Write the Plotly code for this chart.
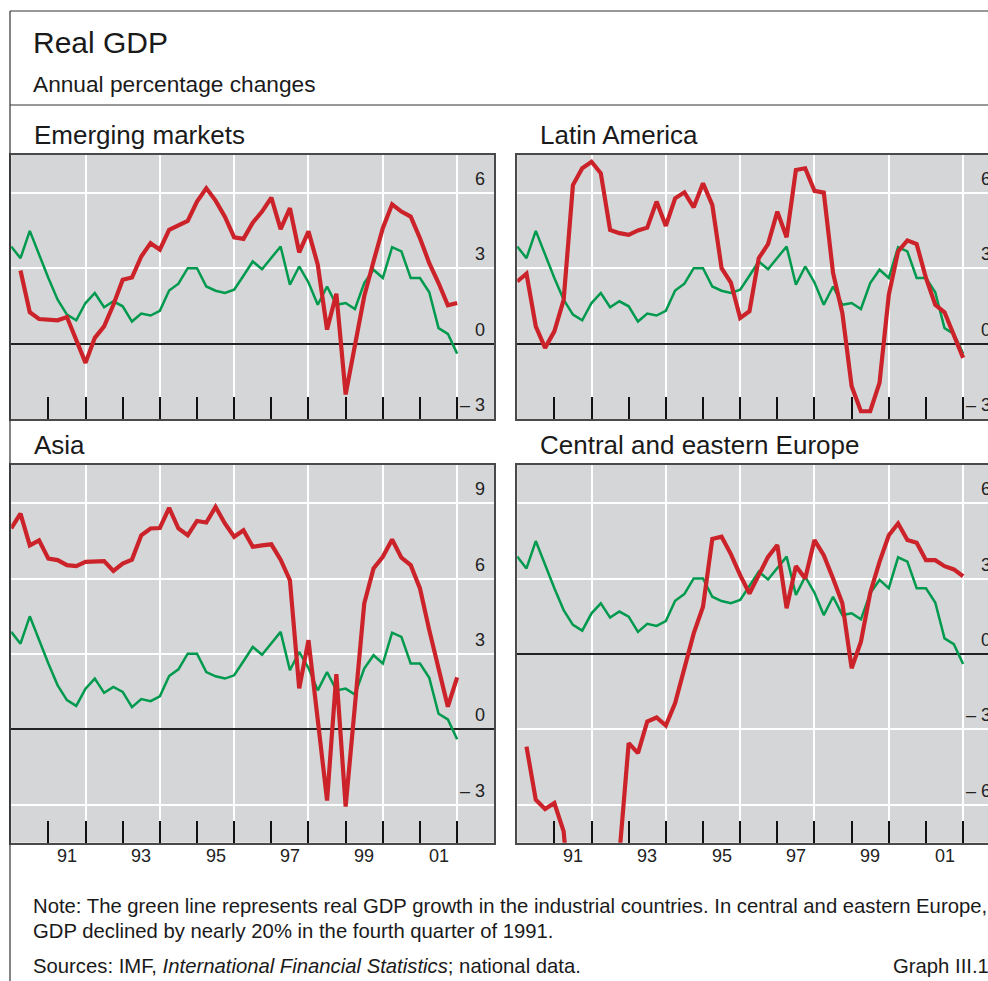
import numpy as np
import plotly.graph_objects as go

# quarterly observations, 1990 to 2002
quarters = np.arange(1990, 2002.01, 0.25)

# green line: industrial countries (same in every panel)
industrial = [3.88, 3.41, 4.50, 3.55, 2.62, 1.75, 1.16, 0.93, 1.62, 2.02,
              1.45, 1.69, 1.49, 0.88, 1.20, 1.12, 1.31, 2.12, 2.39, 3.01,
              3.01, 2.28, 2.11, 2.02, 2.15, 2.71, 3.28, 2.97, 3.41, 3.88,
              2.35, 3.08, 2.44, 1.55, 2.28, 1.55, 1.62, 1.38, 2.42, 2.95,
              2.62, 3.85, 3.68, 2.62, 2.62, 2.05, 0.62, 0.39, -0.40]

emerging = [None, 2.92, 1.25, 0.98, 0.96, 0.93, 1.06, 0.16, -0.77, 0.23,
            0.69, 1.55, 2.55, 2.64, 3.48, 4.01, 3.75, 4.54, 4.70, 4.90,
            5.67, 6.20, 5.71, 5.07, 4.24, 4.18, 4.83, 5.27, 5.83, 4.57,
            5.41, 3.64, 4.48, 3.15, 0.56, 1.99, -2.03, -0.17, 1.89, 3.28,
            4.61, 5.56, 5.27, 5.07, 4.21, 3.21, 2.42, 1.53, 1.62]

latin_america = [2.48, 2.79, 0.69, -0.17, 0.49, 1.75, 6.33, 7.00, 7.26, 6.80,
                 4.54, 4.41, 4.34, 4.52, 4.63, 5.67, 4.70, 5.80, 6.04, 5.44,
                 6.40, 5.54, 3.01, 2.44, 1.02, 1.29, 3.41, 3.97, 5.27, 4.25,
                 6.93, 7.00, 6.10, 6.03, 2.82, 1.22, -1.70, -2.70, -2.70, -1.57,
                 1.95, 3.68, 4.12, 3.97, 2.62, 1.55, 1.25, 0.29, -0.57]

asia = [8.00, 8.59, 7.33, 7.53, 6.80, 6.74, 6.54, 6.50, 6.67, 6.70,
        6.70, 6.31, 6.60, 6.76, 7.73, 8.00, 8.02, 8.82, 8.00, 7.73,
        8.30, 8.24, 8.86, 8.20, 7.67, 7.93, 7.27, 7.33, 7.37, 6.76,
        5.94, 1.63, 3.55, 0.37, -2.84, 2.20, -3.08, 0.95, 5.01, 6.41,
        6.87, 7.56, 6.84, 6.54, 5.61, 3.95, 2.43, 0.90, 2.07]

central_europe = [None, -3.69, -5.81, -6.18, -5.94, -7.07, -12.0, -17.0, -19.5, -17.0,
                  -13.0, -8.0, -3.55, -3.95, -2.69, -2.53, -2.85, -1.96, -0.64, 0.82,
                  1.88, 4.58, 4.67, 3.98, 3.14, 2.41, 3.14, 3.87, 4.34, 1.82,
                  3.50, 3.01, 4.54, 3.94, 3.01, 2.02, -0.57, 0.49, 2.44, 3.67,
                  4.73, 5.20, 4.54, 4.43, 3.74, 3.74, 3.50, 3.37, 3.10]

year_labels = ['91', '93', '95', '97', '99', '01']
year_label_pos = [1991.5, 1993.5, 1995.5, 1997.5, 1999.5, 2001.5]

W, H = 988, 981
FONT = 'Liberation Sans'
BG = '#d5d6d8'
RED = '#cc2229'
GREEN = '#009a4e'
BORDER = '#4a4a4a'


def px(x):
    return x / W


def py(y):
    return (H - y) / H


# name, series, x pixels, y pixels, y range, gridlines, labels, right column
panels = [
    ('Emerging markets', emerging, (11.2, 494.3), (155, 419), [-3.01, 7.53],
     [3, 6], [6, 3, 0, -3], False),
    ('Latin America', latin_america, (517.2, 988), (155, 419), [-3.01, 7.53],
     [3, 6], [6, 3, 0, -3], True),
    ('Asia', asia, (11.2, 494.3), (465, 842.7), [-4.52, 10.53],
     [-3, 3, 6, 9], [9, 6, 3, 0, -3], False),
    ('Central and eastern Europe', central_europe, (517.2, 988), (465, 842.7), [-7.52, 7.53],
     [-6, -3, 3, 6], [6, 3, 0, -3, -6], True),
]

fig = go.Figure()
annotations = []
layout = {}

for k, (name, series, xp, yp, yrange, grid, labels, right) in enumerate(panels, start=1):
    sfx = '' if k == 1 else str(k)
    xa, ya = 'x' + sfx, 'y' + sfx
    fig.add_trace(go.Scatter(x=quarters, y=industrial, mode='lines',
                             line=dict(color=GREEN, width=2.5),
                             xaxis=xa, yaxis=ya, hoverinfo='skip'))
    fig.add_trace(go.Scatter(x=quarters, y=series, mode='lines',
                             line=dict(color=RED, width=4.2),
                             xaxis=xa, yaxis=ya, hoverinfo='skip'))

    x_end = 2003 if not right else 1990 + (xp[1] - xp[0]) / 37.16
    layout['xaxis' + sfx] = dict(
        domain=[px(xp[0]), px(xp[1])], range=[1990, x_end], anchor=ya,
        tickvals=[1992, 1994, 1996, 1998, 2000, 2002], showticklabels=False,
        ticks='inside', ticklen=22, tickwidth=2, tickcolor='#111',
        minor=dict(tickvals=[1991, 1993, 1995, 1997, 1999, 2001], ticks='inside',
                   ticklen=22, tickwidth=2, tickcolor='#111', showgrid=False),
        showgrid=True, gridcolor='white', gridwidth=2,
        showline=True, linecolor=BORDER, linewidth=1.5, mirror=True,
        zeroline=False, fixedrange=True)
    layout['yaxis' + sfx] = dict(
        domain=[py(yp[1]), py(yp[0])], range=yrange, anchor=xa,
        tickvals=grid, showticklabels=False, ticks='',
        showgrid=True, gridcolor='white', gridwidth=2,
        zeroline=True, zerolinecolor='#222', zerolinewidth=1.5,
        showline=True, linecolor=BORDER, linewidth=1.5, mirror=not right,
        fixedrange=True)

    # y tick labels sit just above their gridline, inside the panel
    lab_x = px(487) if not right else px(993)
    for v in labels:
        annotations.append(dict(
            x=lab_x, xref='paper', xanchor='right', y=v, yref=ya,
            yanchor='middle', yshift=14, showarrow=False,
            text=str(v) if v >= 0 else '\u2013 ' + str(-v),
            font=dict(family=FONT, size=18, color='#222')))

    # panel heading
    annotations.append(dict(
        x=px(xp[0] + 20.5), xref='paper', xanchor='left',
        y=py(yp[0] - 20), yref='paper', yanchor='middle', showarrow=False,
        text=name, font=dict(family=FONT, size=26, color='#1a1a1a')))

    if k >= 3:
        for lbl, pos in zip(year_labels, year_label_pos):
            annotations.append(dict(
                x=pos, xref=xa, xanchor='center', y=py(856), yref='paper',
                yanchor='middle', showarrow=False, text=lbl,
                font=dict(family=FONT, size=18, color='#222')))

# title block and notes
note_font = dict(family=FONT, size=20.3, color='#1a1a1a')
annotations += [
    dict(x=px(31), y=py(43), xref='paper', yref='paper', xanchor='left', yanchor='middle',
         showarrow=False, text='Real GDP', font=dict(family=FONT, size=30, color='#1a1a1a')),
    dict(x=px(31), y=py(84), xref='paper', yref='paper', xanchor='left', yanchor='middle',
         showarrow=False, text='Annual percentage changes',
         font=dict(family=FONT, size=22.7, color='#1a1a1a')),
    dict(x=px(31), y=py(906), xref='paper', yref='paper', xanchor='left', yanchor='middle',
         showarrow=False,
         text='Note: The green line represents real GDP growth in the industrial countries. '
              'In central and eastern Europe,',
         font=note_font),
    dict(x=px(31), y=py(931), xref='paper', yref='paper', xanchor='left', yanchor='middle',
         showarrow=False, text='GDP declined by nearly 20% in the fourth quarter of 1991.',
         font=note_font),
    dict(x=px(31), y=py(966), xref='paper', yref='paper', xanchor='left', yanchor='middle',
         showarrow=False,
         text='Sources: IMF, <i>International Financial Statistics</i>; national data.',
         font=note_font),
    dict(x=px(991), y=py(966), xref='paper', yref='paper', xanchor='right', yanchor='middle',
         showarrow=False, text='Graph III.1', font=note_font),
]

frame = dict(color='#333', width=1.2)
shapes = [
    dict(type='line', xref='paper', yref='paper', x0=px(10), x1=1.01, y0=py(11), y1=py(11), line=frame),
    dict(type='line', xref='paper', yref='paper', x0=px(10), x1=1.01, y0=py(105), y1=py(105), line=frame),
    dict(type='line', xref='paper', yref='paper', x0=px(10), x1=px(10), y0=-0.01, y1=py(11), line=frame),
]

fig.update_layout(
    width=W, height=H, margin=dict(l=0, r=0, t=0, b=0),
    paper_bgcolor='white', plot_bgcolor=BG, showlegend=False,
    annotations=annotations, shapes=shapes, **layout)

# drop the browser's default page margin so the figure fills the window
fig.write_html('out.html', config={'displayModeBar': False},
               post_script="document.body.style.margin='0';document.body.style.overflow='hidden';")
